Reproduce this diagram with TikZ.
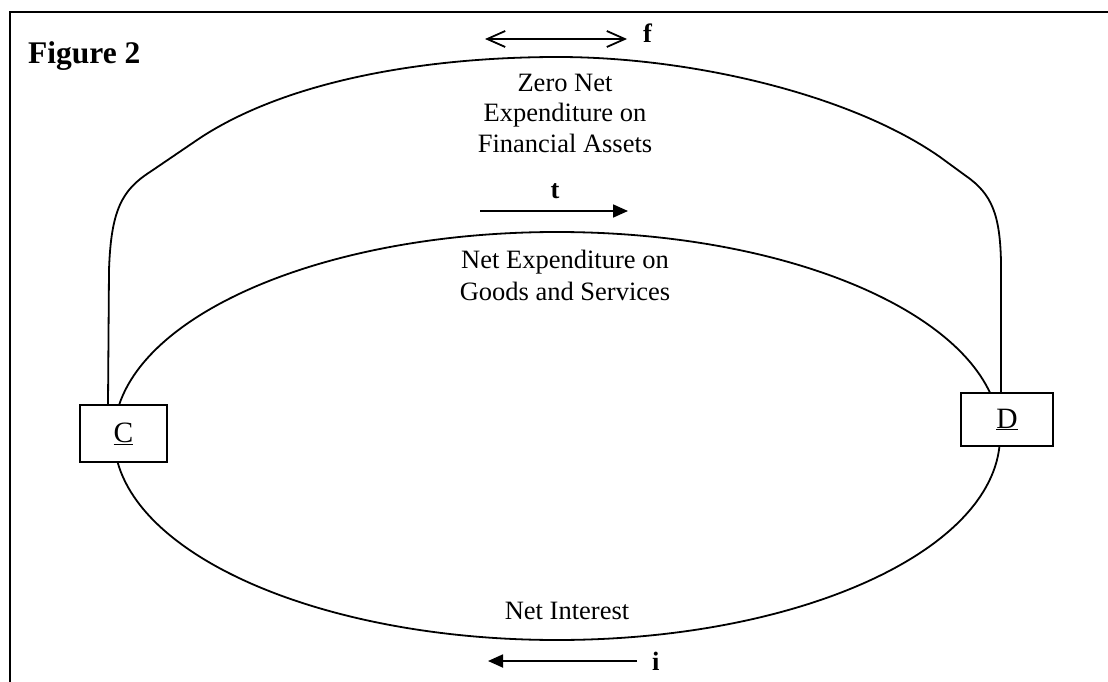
\documentclass[tikz,border=0pt]{standalone}
\usepackage{fontspec}
\setmainfont{Liberation Serif}
\usetikzlibrary{arrows.meta,backgrounds,calc}
\begin{document}
\begin{tikzpicture}[x=1pt,y=-1pt,
  lbl/.style={font=\fontsize{26.5}{31}\selectfont, align=center, inner sep=0pt},
  blbl/.style={font=\fontsize{26.5}{31}\selectfont\bfseries, inner sep=0pt, anchor=base west},
  flow/.style={line width=1.8pt},
  boxnode/.style={draw, line width=2pt, fill=white, inner sep=0pt, font=\fontsize{29.5}{33}\selectfont},
  solidarrow/.style={line width=1.8pt, -{Triangle[length=15pt,width=13pt]}},
  twoarrow/.style={line width=1.8pt, {Straight Barb[length=18pt,width=16pt,line width=1.8pt]}-{Straight Barb[length=18pt,width=16pt,line width=1.8pt]}}]
\useasboundingbox (0,0) rectangle (1108,682);
% frame
\draw[line width=2.2pt] (10,684) -- (10,12) -- (1110,12);
% title
\node[font=\fontsize{31.5}{36}\selectfont\bfseries, inner sep=0pt, anchor=base west] (title) at (28,64) {Figure 2};
% boxes
\node[boxnode, minimum width=87pt, minimum height=57pt] (C) at (123.5,433.5) {\raisebox{-4pt}{\underline{C}}};
\node[boxnode, minimum width=92pt, minimum height=53pt] (D) at (1007,419.5) {\raisebox{-3pt}{\underline{D}}};
% curves
\begin{scope}[on background layer]
\draw[flow] ($(C.north west)+(29,0)$) -- (109,270)
  .. controls (111,210) and (122,190) .. (150,172)
  -- (200,138) .. controls (290,79) and (430,57) .. (558,57)
  .. controls (690,57) and (850,94) .. (940,157)
  -- (966,176) .. controls (992,194) and (1000,215) .. (1001,262)
  -- ($(D.north west)+(41,0)$);
\draw[flow] (557,436) ellipse [x radius=443pt, y radius=204pt];
\end{scope}
% texts
\node[lbl, anchor=base] (zero1) at (565,92) {Zero Net};
\node[lbl, anchor=base] (zero2) at (565,122) {Expenditure on};
\node[lbl, anchor=base] (zero3) at (565,153) {Financial Assets};
\node[lbl, anchor=base] (net1) at (565,268) {Net Expenditure on};
\node[lbl, anchor=base] (net2) at (565,300) {Goods and Services};
\node[lbl, anchor=base] (int) at (567,619) {Net Interest};
% flow arrows
\coordinate (fa) at (485,39);
\coordinate (fb) at (627,39);
\draw[twoarrow] (fa) -- (fb);
\node[blbl] (f) at (643,43) {f};
\coordinate (ta) at (480,211);
\coordinate (tb) at (628,211);
\draw[solidarrow] (ta) -- (tb);
\node[blbl, anchor=base] (t) at (555,198) {t};
\coordinate (ia) at (637,661);
\coordinate (ib) at (488,661);
\draw[solidarrow] (ia) -- (ib);
\node[blbl] (i) at (652,670) {i};
\end{tikzpicture}
\end{document}
